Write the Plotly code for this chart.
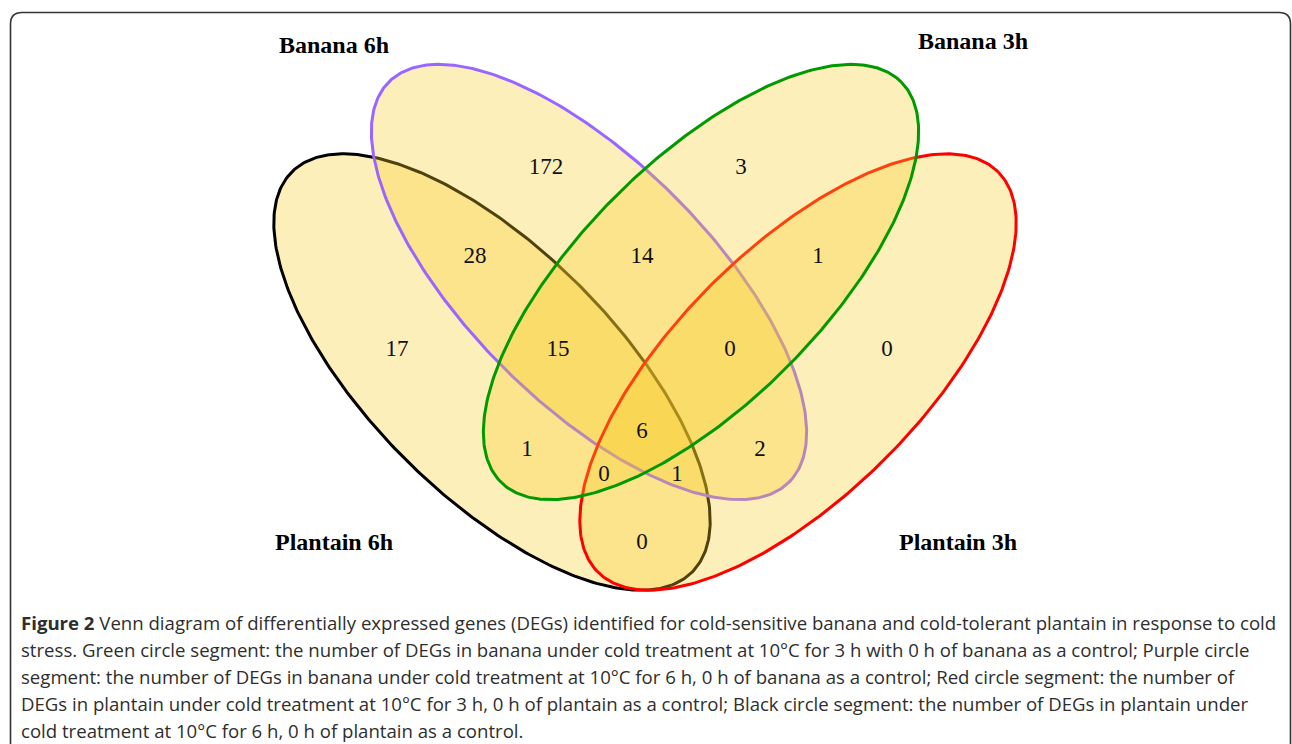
import numpy as np
import plotly.graph_objects as go

# ---------------- data ----------------
set_names = ["Plantain 6h", "Banana 6h", "Plantain 3h", "Banana 3h"]
set_colors = ["#000000", "#9966ff", "#ff0000", "#009900"]

# region membership (P6, B6, P3, B3) and gene counts
regions = ["B6", "B3", "P6", "P3",
           "P6&B6", "B6&B3", "B3&P3",
           "P6&B6&B3", "B6&B3&P3", "P6&B6&B3&P3",
           "P6&B3", "B6&P3", "P6&B3&P3", "P6&B6&P3", "P6&P3"]
counts = [172, 3, 17, 0,
          28, 14, 1,
          15, 0, 6,
          1, 2, 0, 1, 0]

caption_lines = [
    "<b>Figure 2</b> Venn diagram of differentially expressed genes (DEGs) identified for cold-sensitive banana and cold-tolerant plantain in response to cold",
    "stress. Green circle segment: the number of DEGs in banana under cold treatment at 10°C for 3 h with 0 h of banana as a control; Purple circle",
    "segment: the number of DEGs in banana under cold treatment at 10°C for 6 h, 0 h of banana as a control; Red circle segment: the number of",
    "DEGs in plantain under cold treatment at 10°C for 3 h, 0 h of plantain as a control; Black circle segment: the number of DEGs in plantain under",
    "cold treatment at 10°C for 6 h, 0 h of plantain as a control.",
]

# ---------------- layout geometry (pixel space) ----------------
W, H = 1292, 744
# ellipse: centre x, centre y, semi-major, semi-minor, angle (deg, y down)
ellipse_geom = {
    "Plantain 6h": (492, 372, 283, 123, 45),
    "Banana 6h": (589, 282, 283, 121, 45),
    "Plantain 3h": (798, 372, 283, 123, -45),
    "Banana 3h": (701, 282, 283, 121, -45),
}
region_pos = {
    "B6": (546, 168), "B3": (741, 168), "P6": (397, 350), "P3": (887, 350),
    "P6&B6": (475, 257), "B6&B3": (642, 257), "B3&P3": (818, 257),
    "P6&B6&B3": (558, 350), "B6&B3&P3": (730, 350), "P6&B6&B3&P3": (642, 432),
    "P6&B3": (527, 450), "B6&P3": (760, 450), "P6&B3&P3": (604, 475),
    "P6&B6&P3": (677, 475), "P6&P3": (642, 543),
}
label_pos = {
    "Banana 6h": (334, 45), "Banana 3h": (973, 41),
    "Plantain 6h": (334, 542), "Plantain 3h": (958, 542),
}

fig = go.Figure()

t = np.linspace(0, 2 * np.pi, 400)
for name, col in zip(set_names, set_colors):
    cx, cy, a, b, ang = ellipse_geom[name]
    th = np.deg2rad(ang)
    xs = cx + a * np.cos(t) * np.cos(th) - b * np.sin(t) * np.sin(th)
    ys = cy + a * np.cos(t) * np.sin(th) + b * np.sin(t) * np.cos(th)
    fig.add_trace(go.Scatter(
        x=xs, y=ys, mode="lines", fill="toself",
        fillcolor="rgba(250,205,40,0.32)",
        line=dict(color=col, width=3),
        hoverinfo="skip", showlegend=False, name=name))

fig.add_trace(go.Scatter(
    x=[region_pos[r][0] for r in regions],
    y=[region_pos[r][1] for r in regions],
    text=[str(c) for c in counts], mode="text",
    textfont=dict(family="Liberation Serif, Times New Roman, serif", size=23, color="#111"),
    hoverinfo="skip", showlegend=False))

for name in set_names:
    x, y = label_pos[name]
    fig.add_annotation(x=x, y=y, text="<b>%s</b>" % name, showarrow=False,
                       xanchor="center", yanchor="middle",
                       font=dict(family="Liberation Serif, Times New Roman, serif", size=24, color="#000"))

for i, line in enumerate(caption_lines):
    fig.add_annotation(x=19, y=622 + i * 27, text=line, showarrow=False,
                       xanchor="left", yanchor="middle",
                       font=dict(family="Open Sans, sans-serif", size=18.6, color="#2e2e2e"))

# frame
fig.add_shape(type="path",
              path="M 10.5 800 L 10.5 24 Q 10.5 12.5 22 12.5 L 1279 12.5 Q 1290.5 12.5 1290.5 24 L 1290.5 800",
              line=dict(color="#333", width=1.6), layer="above")

fig.update_layout(
    width=W, height=H, margin=dict(l=0, r=0, t=0, b=0),
    paper_bgcolor="white", plot_bgcolor="white",
    xaxis=dict(range=[0, W], visible=False, fixedrange=True),
    yaxis=dict(range=[H, 0], visible=False, fixedrange=True),
)

fig.write_html("out.html", config={"displayModeBar": False},
               post_script="document.body.style.margin='0';")
